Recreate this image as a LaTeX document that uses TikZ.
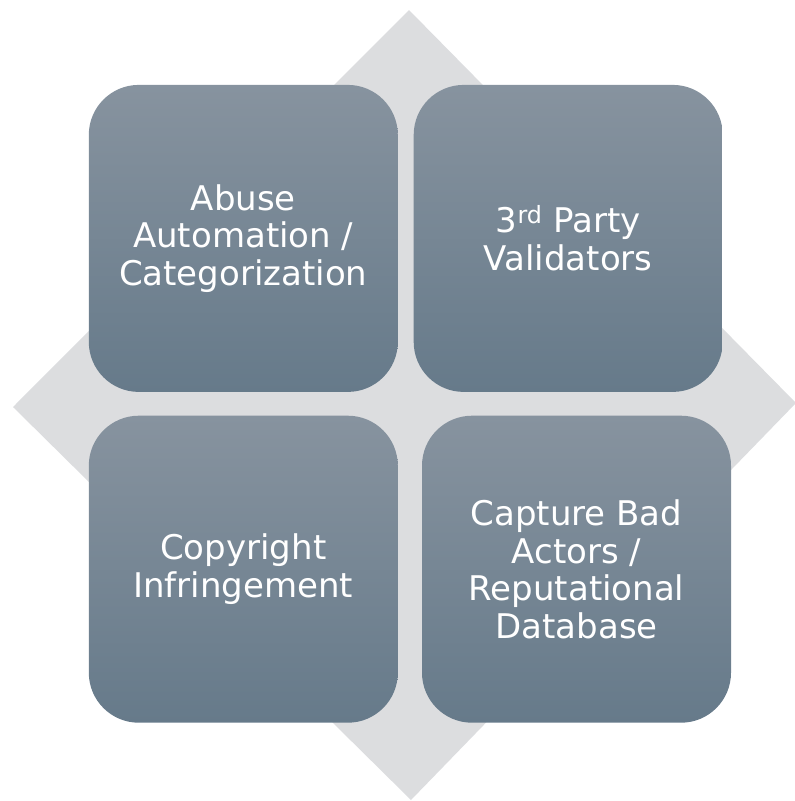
\documentclass[tikz,border=0pt]{standalone}
\usepackage{fontspec}
\setmainfont{DejaVu Sans}
\definecolor{diam}{HTML}{DCDDDF}
\definecolor{boxtop}{HTML}{87939F}
\definecolor{boxbot}{HTML}{667A8A}
\tikzset{
  tile/.style={rectangle, rounded corners=50pt, top color=boxtop, bottom color=boxbot,
    draw=none, minimum width=309pt, minimum height=307pt, inner sep=0pt,
    text=white, align=center, font=\fontsize{34}{37.5}\selectfont}
}
\begin{document}
\begin{tikzpicture}[x=1pt,y=-1pt]
\useasboundingbox (0,0) rectangle (795,801);
\fill[diam] (409,10) coordinate (dt) -- (796,403) coordinate (dr) -- (411,800) coordinate (db) -- (13,407) coordinate (dl) -- cycle;
\node[tile] (tl) at (243.3,238.4) {Abuse\\Automation /\\Categorization};
\node[tile] (tr) at (568.2,238.4) {3\textsuperscript{rd} Party\\Validators};
\node[tile] (bl) at (243.3,569.2) {Copyright\\Infringement};
\node[tile] (br) at (576.5,569.2) {Capture Bad\\Actors /\\Reputational\\Database};
\end{tikzpicture}
\end{document}
